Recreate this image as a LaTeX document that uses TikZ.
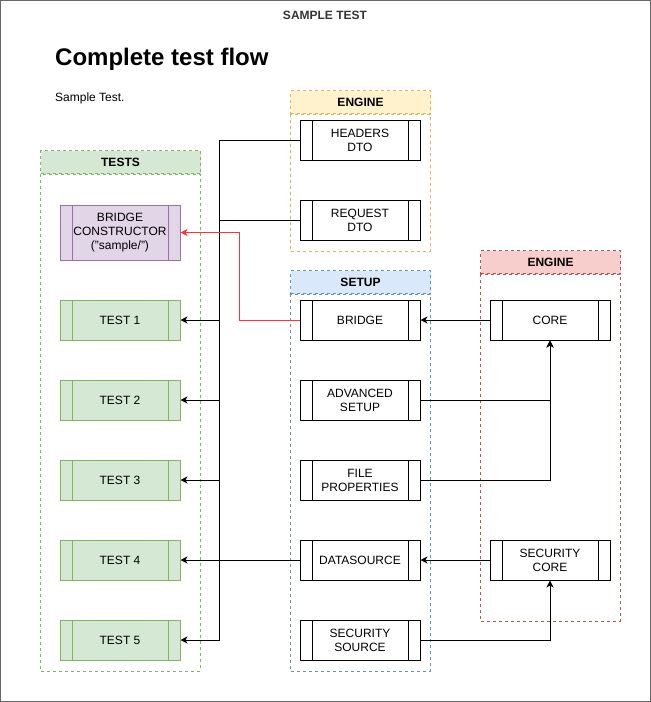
\documentclass[tikz,border=0pt]{standalone}
\usepackage{fontspec}
\setmainfont{Liberation Sans}
\usetikzlibrary{arrows.meta}

\definecolor{marco}{HTML}{666666}
\definecolor{amarilloF}{HTML}{FFF2CC}
\definecolor{amarilloB}{HTML}{D6B656}
\definecolor{verdeF}{HTML}{D5E8D4}
\definecolor{verdeB}{HTML}{82B366}
\definecolor{azulF}{HTML}{DAE8FC}
\definecolor{azulB}{HTML}{6C8EBF}
\definecolor{rojoF}{HTML}{F8CECC}
\definecolor{rojoB}{HTML}{B85450}
\definecolor{moradoF}{HTML}{E1D5E7}
\definecolor{moradoB}{HTML}{9673A6}
\definecolor{rojoflecha}{HTML}{FF3333}

\newcommand{\fuente}{\fontsize{12}{14}\selectfont}

\tikzset{
    proceso/.style={draw, line width=1pt, minimum width=120, minimum height=40,
        align=center, font=\fuente, inner sep=0pt,
        path picture={
            \draw[line width=1pt] ([xshift=12pt]path picture bounding box.north west)
                -- ([xshift=12pt]path picture bounding box.south west);
            \draw[line width=1pt] ([xshift=-12pt]path picture bounding box.north east)
                -- ([xshift=-12pt]path picture bounding box.south east);
        }},
    cabecera/.style={draw, line width=1pt, dash pattern=on 3pt off 3pt, minimum width=140,
        minimum height=23, anchor=north west, font=\fuente\bfseries, inner sep=0pt},
    cuerpo/.style={draw, line width=1pt, dash pattern=on 3pt off 3pt},
    flecha/.style={line width=1pt, -{Stealth[length=7pt,width=7pt,inset=2pt]}},
    linea/.style={line width=1pt}
}

\begin{document}
\begin{tikzpicture}[x=1pt, y=-1pt]
    \useasboundingbox (0,0) rectangle (651,702);

    % marco y títulos
    \draw[marco, line width=1pt] (0.5,0.5) rectangle (650,701);
    \node[font=\fuente\bfseries, text=black!80] (encabezado) at (325,15) {SAMPLE TEST};
    \node[anchor=base west, inner sep=0pt, font=\fontsize{24}{28}\selectfont\bfseries]
        (titulo) at (55,65.5) {Complete test flow};
    \node[anchor=base west, inner sep=0pt, font=\fuente] (subtitulo) at (55,101.5) {Sample Test.};

    %—————— contenedores ——————
    % ENGINE (amarillo)
    \node[cabecera, draw=amarilloB, fill=amarilloF] (engA) at (290,90) {ENGINE};
    \draw[cuerpo, amarilloB] (engA.south west) rectangle ++(140,137);
    % TESTS
    \node[cabecera, draw=verdeB, fill=verdeF, minimum width=160] (tests) at (40,150) {TESTS};
    \draw[cuerpo, verdeB] (tests.south west) rectangle ++(160,497);
    % SETUP
    \node[cabecera, draw=azulB, fill=azulF] (setup) at (290,270) {SETUP};
    \draw[cuerpo, azulB] (setup.south west) rectangle ++(140,377);
    % ENGINE (rojo)
    \node[cabecera, draw=rojoB, fill=rojoF] (engB) at (480,250) {ENGINE};
    \draw[cuerpo, rojoB] (engB.south west) rectangle ++(140,347);

    %—————— procesos ——————
    \node[proceso] (headers) at (360,140) {HEADERS\\DTO};
    \node[proceso] (request) at (360,220) {REQUEST\\DTO};

    \node[proceso, draw=moradoB, fill=moradoF, minimum height=55] (constructor) at (120,232.5)
        {BRIDGE\\CONSTRUCTOR\\("sample/")};
    \foreach \i/\y in {1/320, 2/400, 3/480, 4/560, 5/640}
        \node[proceso, draw=verdeB, fill=verdeF] (test\i) at (120,\y) {TEST \i};

    \node[proceso] (bridge) at (360,320) {BRIDGE};
    \node[proceso] (advanced) at (360,400) {ADVANCED\\SETUP};
    \node[proceso] (fileprops) at (360,480) {FILE\\PROPERTIES};
    \node[proceso] (datasource) at (360,560) {DATASOURCE};
    \node[proceso] (secsource) at (360,640) {SECURITY\\SOURCE};

    \node[proceso] (core) at (550,320) {CORE};
    \node[proceso] (seccore) at (550,560) {SECURITY\\CORE};

    %—————— conexiones ——————
    % bus hacia los tests
    \draw[linea] (headers.west) -- ++(-80,0) coordinate (bus);
    \draw[linea] (bus) -- (bus |- test5.east);
    \draw[linea] (request.west) -- (request.west -| bus);
    \foreach \t in {test1, test2, test3, test5}
        \draw[flecha] (\t.east -| bus) -- (\t.east);
    \draw[flecha] (datasource.west) -- (test4.east);

    % bridge -> constructor
    \draw[flecha, rojoflecha] (bridge.west) -- ++(-60,0) |- (constructor.east);

    % engine -> setup
    \draw[flecha] (core.west) -- (bridge.east);
    \draw[flecha] (advanced.east) -| (core.south);
    \draw[flecha] (fileprops.east) -| (core.south);
    \draw[flecha] (seccore.west) -- (datasource.east);
    \draw[flecha] (secsource.east) -| (seccore.south);
\end{tikzpicture}
\end{document}
